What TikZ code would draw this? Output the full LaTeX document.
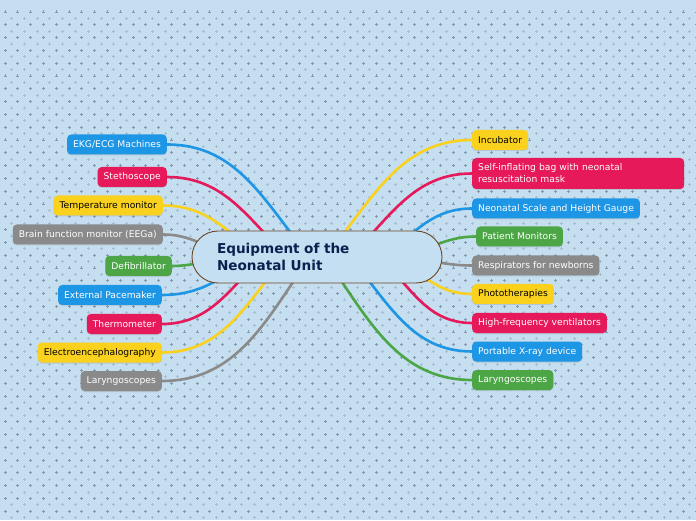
\documentclass[tikz,border=0pt]{standalone}
\usepackage{fontspec}
\setmainfont{DejaVu Sans}
\usetikzlibrary{calc,shadows}
\definecolor{bg}{RGB}{197,222,240}
\definecolor{plusc}{RGB}{110,130,155}
\definecolor{cblue}{RGB}{30,150,230}
\definecolor{cpink}{RGB}{230,25,90}
\definecolor{cyellow}{RGB}{250,210,30}
\definecolor{cgrey}{RGB}{138,138,138}
\definecolor{cgreen}{RGB}{76,166,70}
\definecolor{cfill}{RGB}{196,223,241}
\definecolor{cborder}{RGB}{107,70,35}
\definecolor{ctitle}{RGB}{12,32,80}
\begin{document}
\begin{tikzpicture}[x=1pt,y=1pt,
  item/.style={rounded corners=4pt, minimum height=20pt, inner xsep=6pt, inner ysep=0pt,
    font=\fontsize{9.2}{12}\selectfont, text=white,
    drop shadow={shadow xshift=0pt, shadow yshift=-1pt, opacity=0.25}},
  iblue/.style={item, fill=cblue},
  ipink/.style={item, fill=cpink},
  iyellow/.style={item, fill=cyellow, text=black},
  igrey/.style={item, fill=cgrey},
  igreen/.style={item, fill=cgreen},
  conn/.style={line width=2.6pt, line cap=round},
  topic/.style={draw=cborder, line width=0.9pt, fill=cfill, rounded corners=26pt,
    minimum width=250pt, minimum height=52pt, text width=200pt, inner xsep=25pt,
    align=left, font=\fontsize{13.6}{17}\selectfont\bfseries, text=ctitle}
]
\useasboundingbox (0,0) rectangle (696,520);
\fill[bg] (0,0) rectangle (696,520);
\draw[plusc, line width=0.8pt, opacity=0.75]
  \foreach \j in {0,2,...,80} {
    \foreach \i in {0,...,54} {
      ({\i*12.8+5-1.5},{520-(\j*6.4+12)}) -- ++(3,0)
      ({\i*12.8+5},{520-(\j*6.4+12)-1.5}) -- ++(0,3)
    }
  };
\draw[plusc, line width=0.8pt, opacity=0.35]
  \foreach \j in {1,3,...,81} {
    \foreach \i in {0,...,54} {
      ({\i*12.8+11.4-1.5},{520-(\j*6.4+12)}) -- ++(3,0)
      ({\i*12.8+11.4},{520-(\j*6.4+12)-1.5}) -- ++(0,3)
    }
  };

% center coordinates
\coordinate (cc) at (317,263);

% left nodes
\node[iblue,   anchor=east] (l1) at (167,375.5) {EKG/ECG Machines};
\node[ipink,   anchor=east] (l2) at (167,343) {Stethoscope};
\node[iyellow, anchor=east] (l3) at (163,314.5) {Temperature monitor};
\node[igrey,   anchor=east] (l4) at (163,285.5) {Brain function monitor (EEGa)};
\node[igreen,  anchor=east] (l5) at (172,254) {Defibrillator};
\node[iblue,   anchor=east] (l6) at (162,225) {External Pacemaker};
\node[ipink,   anchor=east] (l7) at (162,196) {Thermometer};
\node[iyellow, anchor=east] (l8) at (162,167.5) {Electroencephalography};
\node[igrey,   anchor=east] (l9) at (162,139) {Laryngoscopes};

% right nodes
\node[iyellow, anchor=west] (r1) at (472,380) {Incubator};
\node[ipink,   anchor=west, minimum height=31pt, text width=200pt, align=left] (r2) at (472,346.5) {Self-inflating bag with neonatal\\resuscitation mask};
\node[iblue,   anchor=west] (r3) at (472,311.5) {Neonatal Scale and Height Gauge};
\node[igreen,  anchor=west] (r4) at (476,283.5) {Patient Monitors};
\node[igrey,   anchor=west] (r5) at (472,254.5) {Respirators for newborns};
\node[iyellow, anchor=west] (r6) at (472,226) {Phototherapies};
\node[ipink,   anchor=west] (r7) at (472,197) {High-frequency ventilators};
\node[iblue,   anchor=west] (r8) at (472,168.5) {Portable X-ray device};
\node[igreen,  anchor=west] (r9) at (472,140) {Laryngoscopes};

% connectors (behind topic)
\draw[conn, cblue]   ($(cc)+(-7,0)$)  to[out=130, in=0] (l1.east);
\draw[conn, cpink]   ($(cc)+(-30,0)$) to[out=135, in=0] (l2.east);
\draw[conn, cyellow] ($(cc)+(-58,0)$) to[out=140, in=0] (l3.east);
\draw[conn, cgrey]   ($(cc)+(-85,0)$) to[out=160, in=0] (l4.east);
\draw[conn, cgreen]  ($(cc)+(-85,0)$) to[out=185, in=0] (l5.east);
\draw[conn, cblue]   ($(cc)+(-65,0)$) to[out=215, in=0] (l6.east);
\draw[conn, cpink]   ($(cc)+(-55,0)$) to[out=225, in=0] (l7.east);
\draw[conn, cyellow] ($(cc)+(-32,0)$) to[out=230, in=0] (l8.east);
\draw[conn, cgrey]   ($(cc)+(-7,0)$)  to[out=235, in=0] (l9.east);

\draw[conn, cyellow] ($(cc)+(8,0)$)   to[out=50, in=180] (r1.west);
\draw[conn, cpink]   ($(cc)+(33,0)$)  to[out=45, in=180] (r2.west);
\draw[conn, cblue]   ($(cc)+(68,0)$)  to[out=40, in=180] (r3.west);
\draw[conn, cgreen]  ($(cc)+(85,0)$)  to[out=15, in=180] (r4.west);
\draw[conn, cgrey]   ($(cc)+(85,0)$)  to[out=-5, in=180] (r5.west);
\draw[conn, cyellow] ($(cc)+(80,0)$)  to[out=-35, in=180] (r6.west);
\draw[conn, cpink]   ($(cc)+(63,0)$)  to[out=-45, in=180] (r7.west);
\draw[conn, cblue]   ($(cc)+(33,0)$)  to[out=-50, in=180] (r8.west);
\draw[conn, cgreen]  ($(cc)+(8,0)$)   to[out=-55, in=180] (r9.west);

\node[topic] (c) at (cc) {Equipment of the\\Neonatal Unit};
\end{tikzpicture}
\end{document}
